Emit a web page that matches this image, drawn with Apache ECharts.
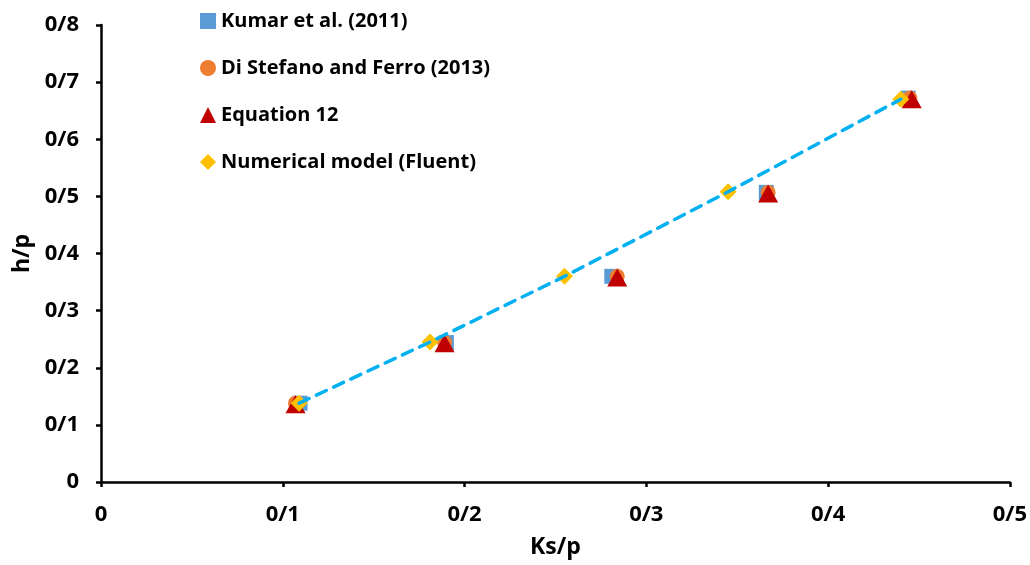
<!DOCTYPE html>
<html>
<head>
<meta charset="utf-8">
<script src="https://cdn.jsdelivr.net/npm/echarts@6/dist/echarts.min.js"></script>
<style>html,body{margin:0;padding:0;background:#fff}#c{width:1030px;height:565px}</style>
</head>
<body>
<div id="c"></div>
<script>
var seriesNames = ['Kumar et al. (2011)', 'Di Stefano and Ferro (2013)', 'Equation 12', 'Numerical model (Fluent)'];
var kumarX = [0.1095, 0.190, 0.281, 0.366, 0.444];
var kumarY = [0.138, 0.244, 0.360, 0.507, 0.672];
var stefanoX = [0.107, 0.189, 0.284, 0.367, 0.445];
var stefanoY = [0.138, 0.244, 0.360, 0.507, 0.672];
var eqX = [0.107, 0.189, 0.284, 0.367, 0.446];
var eqY = [0.136, 0.243, 0.358, 0.505, 0.670];
var fluentX = [0.109, 0.181, 0.255, 0.345, 0.440];
var fluentY = [0.138, 0.245, 0.360, 0.508, 0.670];
var xTickLabels = ['0', '0/1', '0/2', '0/3', '0/4', '0/5'];
var yTickLabels = ['0', '0/1', '0/2', '0/3', '0/4', '0/5', '0/6', '0/7', '0/8'];

function pts(xs, ys) { return xs.map(function (x, i) { return [x, ys[i]]; }); }
var FONT = 'Open Sans';
var chart = echarts.init(document.getElementById('c'));
chart.setOption({
  animation: false,
  backgroundColor: '#fff',
  grid: { left: 101, right: 16, top: 25, bottom: 83, containLabel: false },
  legend: {
    orient: 'vertical', left: 195, top: 6, itemGap: 27, itemWidth: 16, itemHeight: 16,
    data: seriesNames,
    textStyle: { fontFamily: FONT, fontWeight: 'bold', fontSize: 20, color: '#000' }
  },
  xAxis: {
    type: 'value', min: 0, max: 0.5, interval: 0.1,
    name: 'Ks/p', nameLocation: 'middle', nameGap: 54,
    nameTextStyle: { fontFamily: FONT, fontWeight: 'bold', fontSize: 23, color: '#000' },
    axisLine: { show: true, lineStyle: { color: '#000', width: 2.5 } },
    axisTick: { show: true, inside: false, length: 5, lineStyle: { color: '#000', width: 2.5 } },
    axisLabel: { margin: 22, fontFamily: FONT, fontWeight: 'bold', fontSize: 22, color: '#000',
      formatter: function (v) { return xTickLabels[Math.round(v * 10)]; } },
    splitLine: { show: false }
  },
  yAxis: {
    type: 'value', min: 0, max: 0.8, interval: 0.1,
    name: 'h/p', nameLocation: 'middle', nameGap: 67, nameRotate: 90,
    nameTextStyle: { fontFamily: FONT, fontWeight: 'bold', fontSize: 23, color: '#000' },
    axisLine: { show: true, lineStyle: { color: '#000', width: 2.5 } },
    axisTick: { show: true, inside: false, length: 5, lineStyle: { color: '#000', width: 2.5 } },
    axisLabel: { margin: 22, fontFamily: FONT, fontWeight: 'bold', fontSize: 22, color: '#000',
      formatter: function (v) { return yTickLabels[Math.round(v * 10)]; } },
    splitLine: { show: false }
  },
  series: [
    { name: seriesNames[0], type: 'scatter', symbol: 'rect', symbolSize: 15,
      itemStyle: { color: '#5B9BD5', opacity: 1 }, data: pts(kumarX, kumarY) },
    { name: seriesNames[1], type: 'scatter', symbol: 'circle', symbolSize: 15,
      itemStyle: { color: '#ED7D31', opacity: 1 }, data: pts(stefanoX, stefanoY) },
    { name: seriesNames[2], type: 'scatter', symbol: 'triangle', symbolSize: [20, 18],
      itemStyle: { color: '#C00000', opacity: 1 }, data: pts(eqX, eqY) },
    { name: seriesNames[3], type: 'scatter', symbol: 'diamond', symbolSize: 17,
      itemStyle: { color: '#FFC000', opacity: 1 }, data: pts(fluentX, fluentY) },
    { name: 'trend', type: 'line', symbol: 'none', silent: true,
      lineStyle: { color: '#00B0F0', width: 3.5, type: [11, 8], cap: 'round' },
      data: pts(fluentX, fluentY), z: 5 }
  ]
});
</script>
</body>
</html>
